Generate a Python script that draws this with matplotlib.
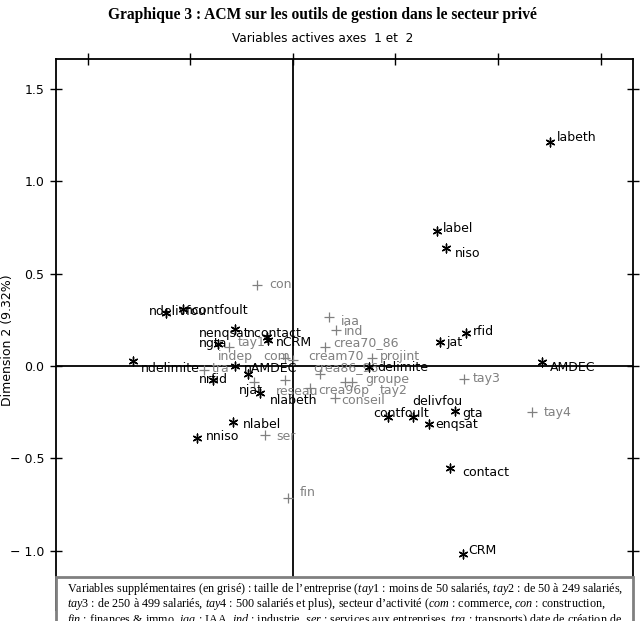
import matplotlib
matplotlib.use('Agg')
import matplotlib.pyplot as plt
from matplotlib.patches import Rectangle

plt.rcParams['mathtext.fontset'] = 'custom'
plt.rcParams['mathtext.rm'] = 'Liberation Serif'
plt.rcParams['mathtext.it'] = 'Liberation Serif:italic'

# active variables (black asterisks)
act_names = ['labeth', 'label', 'niso', 'rfid', 'jat', 'AMDEC', 'delimite', 'delivfou',
             'contfoult', 'gta', 'enqsat', 'contact', 'CRM', 'ndelimite', 'nAMDEC', 'nrfid',
             'njat', 'nlabeth', 'nlabel', 'nniso', 'ndelivfou', 'ncontfoult', 'nenqsat',
             'ncontact', 'ngta', 'nCRM']
act_x = [1.254, 0.702, 0.746, 0.844, 0.717, 1.215, 0.371, 0.585,
         0.463, 0.790, 0.663, 0.766, 0.829, -0.780, -0.283, -0.390,
         -0.220, -0.161, -0.293, -0.468, -0.620, -0.537, -0.283,
         -0.127, -0.366, -0.122]
act_y = [1.213, 0.731, 0.639, 0.179, 0.130, 0.022, -0.005, -0.277,
         -0.277, -0.244, -0.314, -0.552, -1.018, 0.027, 0.0, -0.076,
         -0.043, -0.146, -0.303, -0.390, 0.287, 0.309, 0.200,
         0.157, 0.119, 0.141]

# supplementary variables (grey crosses)
sup_names = ['con', 'iaa', 'ind', 'crea70_86', 'tay1', 'indep', 'com', 'cream70', 'projint',
             'tra', 'crea86_96', 'groupe', 'tay2', 'reseau', 'crea96p', 'conseil',
             'tay3', 'tay4', 'ser', 'fin']
sup_x = [-0.176, 0.176, 0.210, 0.156, -0.312, -0.039, -0.039, 0.0, 0.385,
         -0.434, 0.132, 0.288, 0.254, -0.190, 0.083, 0.205,
         0.834, 1.166, -0.137, -0.024]
sup_y = [0.439, 0.265, 0.195, 0.103, 0.103, -0.076, 0.043, 0.032, 0.043,
         -0.022, -0.043, -0.087, -0.087, -0.087, -0.119, -0.173,
         -0.070, -0.249, -0.371, -0.714]

yticks = [-1.0, -0.5, 0.0, 0.5, 1.0, 1.5]
ytick_labels = ['\u2212 1.0', '\u2212 0.5', '0.0', '0.5', '1.0', '1.5']
xticks = [-1.0, -0.5, 0.0, 0.5, 1.0, 1.5]

# label offsets (pixels) as placed on the original chart
act_off = {'labeth': (7, 5), 'label': (6, 3), 'niso': (9, -5), 'rfid': (7, 1), 'jat': (6, -1),
           'AMDEC': (8, -6), 'delimite': (8, -1), 'delivfou': (-1, 16), 'contfoult': (-15, 4),
           'gta': (7, -2), 'enqsat': (6, -1), 'contact': (12, -5), 'CRM': (5, 3),
           'ndelimite': (8, -7), 'nAMDEC': (9, -2), 'nrfid': (-14, 1), 'njat': (-9, -17),
           'nlabeth': (10, -8), 'nlabel': (10, -3), 'nniso': (9, 2), 'ndelivfou': (-17, 2),
           'ncontfoult': (2, -2), 'nenqsat': (-36, -4), 'ncontact': (-20, 4), 'ngta': (-19, 1),
           'nCRM': (8, -3)}
sup_off = {'con': (12, 0), 'iaa': (12, -4), 'ind': (8, -2), 'crea70_86': (8, 4), 'tay1': (9, 4),
           'indep': (-67, 24), 'com': (-22, 2), 'cream70': (15, 4), 'projint': (8, 2),
           'tra': (8, 2), 'crea86_96': (-7, 6), 'groupe': (13, 3), 'tay2': (35, -8),
           'reseau': (22, -9), 'crea96p': (8, -3), 'conseil': (6, -3), 'tay3': (9, 0),
           'tay4': (12, -1), 'ser': (11, -2), 'fin': (12, 5)}

GREY = '#808080'

fig = plt.figure(figsize=(6.43, 6.21), dpi=100)
ax = fig.add_axes([56 / 643, 1 - 610 / 621, (633 - 56) / 643, (610 - 59) / 621])
ax.set_xlim(-1.156, 1.6585)
ax.set_ylim(-1.3213, 1.6625)

ax.axhline(0, color='black', lw=1.3, zorder=1)
ax.axvline(0, color='black', lw=1.3, zorder=1)

ax.scatter(sup_x, sup_y, marker='+', s=60, color=GREY, linewidths=0.9, zorder=2)
ax.scatter(act_x, act_y, marker=(6, 2, 0), s=40, color='black', linewidths=1.0, zorder=3)

for n, x, y in zip(sup_names, sup_x, sup_y):
    ax.annotate(n, (x, y), xytext=sup_off[n], textcoords='offset pixels',
                ha='left', va='center', fontsize=9, color=GREY, zorder=2)
for n, x, y in zip(act_names, act_x, act_y):
    ax.annotate(n, (x, y), xytext=act_off[n], textcoords='offset pixels',
                ha='left', va='center', fontsize=9, color='black', zorder=3)

ax.set_xticks(xticks)
ax.set_xticklabels([])
ax.set_yticks(yticks)
ax.set_yticklabels(ytick_labels, fontsize=9)
ax.tick_params(direction='inout', length=9, width=1, top=True, right=True, bottom=True, pad=4)
for s in ax.spines.values():
    s.set_linewidth(1.3)
ax.set_ylabel('Dimension 2 (9.32%)', fontsize=9)
ax.yaxis.set_label_coords(-0.072, 0.49)

fig.text(322 / 643, 1 - 15 / 621, 'Graphique 3 : ACM sur les outils de gestion dans le secteur privé',
         ha='center', va='center', fontsize=11.2, fontweight='bold', family='Liberation Serif')
fig.text(323 / 643, 1 - 38 / 621, 'Variables actives axes  1 et  2',
         ha='center', va='center', fontsize=8.7)

# note box with supplementary variables
box = Rectangle((56 / 643, -0.05), (633 - 56) / 643, 0.05 + (621 - 577) / 621,
                transform=fig.transFigure, facecolor='white', edgecolor=GREY, lw=2, zorder=10)
fig.patches.append(box)
notes = [
    r'Variables supplémentaires (en grisé) : taille de l’entreprise ($\mathit{tay1}$ : moins de 50 salariés, $\mathit{tay2}$ : de 50 à 249 salariés,',
    r'$\mathit{tay3}$ : de 250 à 499 salariés, $\mathit{tay4}$ : 500 salariés et plus), secteur d’activité ($\mathit{com}$ : commerce, $\mathit{con}$ : construction,',
    r'$\mathit{fin}$ : finances & immo, $\mathit{iaa}$ : IAA, $\mathit{ind}$ : industrie, $\mathit{ser}$ : services aux entreprises, $\mathit{tra}$ : transports) date de création de',
]
for i, line in enumerate(notes):
    fig.text(67 / 643, 1 - (589 + 15.5 * i) / 621, line, ha='left', va='center',
             fontsize=8.7, family='Liberation Serif', zorder=11)

fig.savefig('out.png', dpi=100)
